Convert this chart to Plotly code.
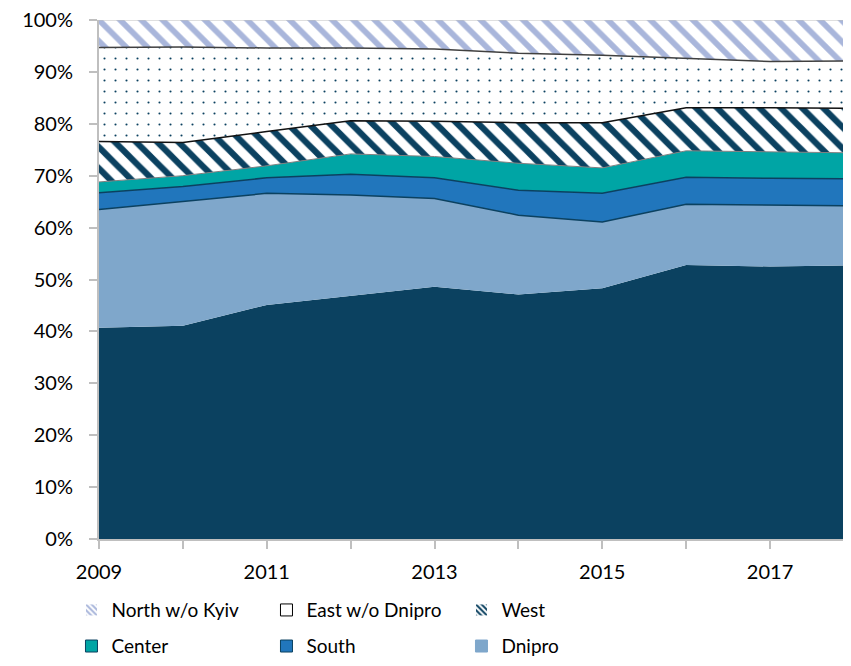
import plotly.graph_objects as go

years = [2009, 2010, 2011, 2012, 2013, 2014, 2015, 2016, 2017, 2018]

# regional shares, %
kyiv = [40.7, 41.1, 45.1, 46.9, 48.6, 47.1, 48.3, 52.8, 52.5, 52.7]
dnipro = [22.8, 23.9, 21.5, 19.4, 17.0, 15.3, 12.8, 11.7, 11.9, 11.5]
south = [3.2, 2.9, 3.0, 4.0, 4.0, 4.8, 5.5, 5.2, 5.1, 5.2]
center = [2.1, 2.1, 2.3, 3.9, 4.1, 5.2, 4.9, 5.1, 5.1, 5.0]
west = [7.8, 6.4, 6.6, 6.4, 6.8, 7.8, 8.7, 8.3, 8.5, 8.6]
east = [18.1, 18.4, 16.1, 14.0, 13.9, 13.4, 13.0, 9.5, 8.9, 9.1]
north = [5.3, 5.2, 5.4, 5.4, 5.6, 6.4, 6.8, 7.4, 8.0, 7.9]

navy = "#0B4160"
lavender = "#A9B6DB"
font = "Lato"

fig = go.Figure()

# stacked areas (legend handled by dummy bars below)
fig.add_trace(go.Scatter(x=years, y=kyiv, name="Kyiv", stackgroup="one",
                         groupnorm="percent", mode="lines",
                         line=dict(width=0), fillcolor=navy, showlegend=False))
fig.add_trace(go.Scatter(x=years, y=dnipro, name="Dnipro", stackgroup="one",
                         mode="lines", line=dict(width=1.5, color=navy),
                         fillcolor="#7FA7CB", showlegend=False))
fig.add_trace(go.Scatter(x=years, y=south, name="South", stackgroup="one",
                         mode="lines", line=dict(width=1.5, color=navy),
                         fillcolor="#2176BC", showlegend=False))
fig.add_trace(go.Scatter(x=years, y=center, name="Center", stackgroup="one",
                         mode="lines", line=dict(width=1, color="#7F7F7F"),
                         fillcolor="#00A5A5", showlegend=False))
fig.add_trace(go.Scatter(x=years, y=west, name="West", stackgroup="one",
                         mode="lines", line=dict(width=1.5, color="#111111"),
                         fillpattern=dict(shape="\\", fgcolor=navy, bgcolor="white",
                                          fillmode="replace", size=15, solidity=0.42),
                         showlegend=False))
fig.add_trace(go.Scatter(x=years, y=east, name="East w/o Dnipro", stackgroup="one",
                         mode="lines", line=dict(width=1.5, color="#404040"),
                         fillpattern=dict(shape=".", fgcolor=navy, bgcolor="white",
                                          fillmode="replace", size=11, solidity=0.03),
                         showlegend=False))
fig.add_trace(go.Scatter(x=years, y=north, name="North w/o Kyiv", stackgroup="one",
                         mode="lines", line=dict(width=1, color="#BFBFBF"),
                         fillpattern=dict(shape="\\", fgcolor=lavender, bgcolor="white",
                                          fillmode="replace", size=15, solidity=0.38),
                         showlegend=False))

# legend entries (square swatches)
def swatch(name, legend, color="white", pattern=None, line="#0B4160"):
    m = dict(color=color, line=dict(color=line, width=1))
    if pattern:
        m["pattern"] = pattern
    fig.add_trace(go.Bar(x=[None], y=[None], name=name, marker=m, legend=legend))

swatch("Dnipro", "legend2", color="#7FA7CB", line="#7FA7CB")
swatch("South", "legend2", color="#2176BC")
swatch("Center", "legend2", color="#00A5A5")
swatch("West", "legend", pattern=dict(shape="\\", fgcolor=navy, bgcolor="white",
                                      fillmode="replace", size=5, solidity=0.5), line="white")
swatch("East w/o Dnipro", "legend", line="black")
swatch("North w/o Kyiv", "legend", pattern=dict(shape="\\", fgcolor=lavender, bgcolor="white",
                                                fillmode="replace", size=5, solidity=0.5),
       line="white")

legend_style = dict(orientation="h", xanchor="left", yanchor="middle",
                    traceorder="reversed", entrywidth=150, entrywidthmode="pixels",
                    itemwidth=30, font=dict(family=font, size=19, color="black"),
                    bgcolor="rgba(0,0,0,0)")

fig.update_layout(
    width=835, height=650,
    margin=dict(l=91, r=0, t=12, b=119, autoexpand=False),
    paper_bgcolor="white", plot_bgcolor="white",
    font=dict(family=font, size=20, color="black"),
    showlegend=True,
    legend=dict(x=-0.037, y=-0.137, **legend_style),
    legend2=dict(x=-0.037, y=-0.2065, **legend_style),
    xaxis=dict(range=[2009, 2017.87], tickvals=[2009, 2011, 2013, 2015, 2017],
               showgrid=False, showline=True, linecolor="#BFBFBF", linewidth=2,
               ticks="outside", ticklen=8, tickcolor="#BFBFBF", tickwidth=2,
               ticklabelstandoff=6, ticklabeloverflow="allow",
               minor=dict(dtick=1, tick0=2009, ticks="outside", ticklen=8,
                          tickcolor="#BFBFBF", tickwidth=2, showgrid=False),
               zeroline=False),
    yaxis=dict(range=[0, 100], dtick=10, ticksuffix="%",
               showgrid=False, showline=True, linecolor="#BFBFBF", linewidth=2,
               ticks="outside", ticklen=8, tickcolor="#BFBFBF", tickwidth=2,
               ticklabelstandoff=12, ticklabeloverflow="allow", zeroline=False),
)

fig.write_html("out.html")
